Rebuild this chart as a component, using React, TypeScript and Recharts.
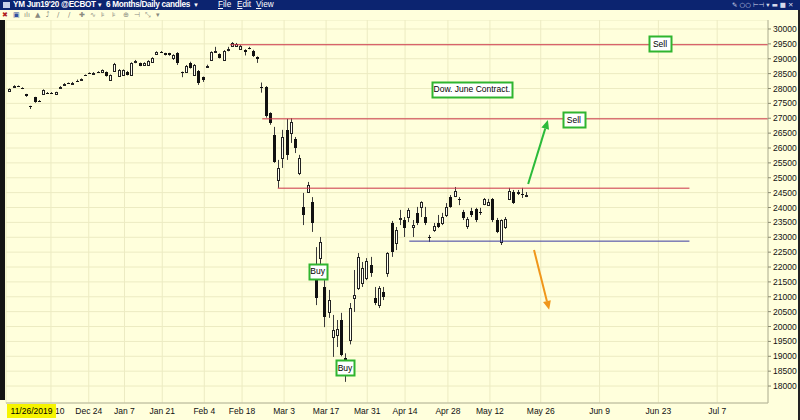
import {
  Bar,
  CartesianGrid,
  ComposedChart,
  ReferenceDot,
  ReferenceLine,
  XAxis,
  YAxis,
} from "recharts";

// Daily OHLC for the Dow June contract, one entry per trading session
const opens = [
  27930, 28080, 28090, 28020, 27800, 27400, 27700, 27590, 27830, 27860,
  27860, 27800, 28000, 28150, 28190, 28180, 28250, 28270, 28450, 28520,
  28520, 28560, 28560, 28560, 28290, 28590, 28420, 28460, 28560, 28460,
  28880, 28850, 28790, 28800, 28900, 29170, 29230, 29190, 29180, 29030,
  29190, 28560, 28550, 28860, 28460, 28590, 28390, 28760, 28960, 29230,
  29160, 28960, 29300, 29430, 29430, 29320, 29300, 29350, 29260, 29050,
  28060, 28050, 27180, 26440, 24920, 25660, 26610, 26510, 26300, 25160,
  24020, 24520, 24190, 21560, 22300, 21330, 20490, 19650, 19710, 20220,
  18940, 19550, 20960, 21300, 21460, 21630, 22070, 20960, 20720, 21160,
  21800, 23480, 22810, 23640, 23580, 23680, 23340, 23820, 24020, 23680,
  23010, 23240, 23480, 23480, 23750, 24350, 24390, 24290, 23850, 23380,
  23880, 23950, 23840, 24120, 24090, 24290, 23580, 22840, 23350, 24290,
  24520, 24510, 24470, 24390,
];
const highs = [
  28000, 28110, 28100, 28040, 27820, 27420, 27720, 27610, 27970, 27880,
  27880, 27890, 28080, 28180, 28200, 28220, 28300, 28340, 28470, 28540,
  28550, 28580, 28640, 28570, 28470, 28860, 28650, 28640, 28590, 28880,
  28960, 28870, 28880, 28950, 29050, 29250, 29260, 29200, 29200, 29150,
  29220, 28570, 28790, 28900, 28820, 28620, 28400, 28800, 29250, 29400,
  29180, 29290, 29400, 29560, 29530, 29460, 29320, 29400, 29300, 29080,
  28200, 28080, 27200, 26710, 25600, 26610, 26980, 27000, 26370, 25770,
  24490, 24860, 24350, 22670, 23010, 21560, 21230, 20390, 20220, 20460,
  19100, 20790, 21900, 22470, 22170, 22300, 22340, 21330, 21360, 21330,
  22500, 23550, 23345, 23920, 23680, 23980, 23580, 24020, 24210, 24020,
  23080, 23480, 23750, 23820, 24150, 24420, 24690, 24350, 23920, 23680,
  23990, 23990, 23990, 24320, 24290, 24320, 23650, 23600, 23680, 24660,
  24590, 24590, 24660, 24520,
];
const lows = [
  27910, 28060, 28050, 27980, 27720, 27310, 27520, 27550, 27810, 27830,
  27820, 27780, 27990, 28130, 28170, 28160, 28230, 28260, 28430, 28500,
  28500, 28540, 28550, 28400, 28280, 28570, 28400, 28440, 28440, 28440,
  28850, 28750, 28780, 28790, 28890, 29150, 29200, 29110, 29100, 28960,
  28790, 28380, 28530, 28670, 28430, 28120, 28220, 28730, 28940, 29220,
  29010, 28930, 29250, 29420, 29400, 29300, 29110, 29320, 29060, 28860,
  27860, 27020, 26780, 25500, 24660, 25330, 25600, 26170, 25830, 25090,
  23410, 24490, 23180, 20720, 22070, 19980, 20290, 18980, 19310, 19000,
  18140, 19400, 20490, 21230, 21330, 21560, 21670, 20720, 20620, 20890,
  21670, 22340, 22570, 23410, 23010, 23510, 23010, 23410, 23680, 23410,
  22840, 23180, 23310, 23410, 23680, 23990, 24350, 24080, 23580, 23280,
  23680, 23510, 23750, 24080, 24050, 23510, 23140, 22740, 23280, 24250,
  24120, 24420, 24320, 24350,
];
const closes = [
  27980, 28090, 28070, 28000, 27740, 27380, 27540, 27570, 27950, 27850,
  27840, 27880, 28060, 28160, 28180, 28200, 28240, 28330, 28440, 28510,
  28530, 28550, 28620, 28420, 28450, 28830, 28620, 28620, 28450, 28860,
  28930, 28770, 28860, 28920, 29020, 29220, 29220, 29130, 29120, 29120,
  28860, 28510, 28760, 28690, 28790, 28190, 28300, 28770, 29220, 29260,
  29030, 29260, 29340, 29540, 29500, 29440, 29220, 29340, 29080, 28990,
  28000, 27080, 26840, 25530, 25330, 26370, 25770, 26880, 26000, 25660,
  23750, 24760, 23480, 20960, 22840, 20320, 20890, 19880, 19920, 19040,
  18880, 20620, 21060, 22340, 21970, 22200, 21800, 20790, 21300, 20990,
  22470, 22500, 23240, 23660, 23310, 23920, 23410, 23480, 24190, 23480,
  22980, 23380, 23350, 23680, 24020, 24020, 24560, 24250, 23650, 23610,
  23750, 23580, 23820, 24290, 24180, 23580, 23180, 23580, 23610, 24560,
  24150, 24530, 24420, 24430,
];

// Date ticks, placed on the session/day slot axis
const tickSlots = [
  10, 19, 27.5, 36.5, 46.5, 55.5, 65.5, 75.5, 85.3, 94.3, 104.5, 114.5,
  126.6, 140.6, 154.6, 168.6,
];
const tickLabels = [
  "Dec 10", "Dec 24", "Jan 7", "Jan 21", "Feb 4", "Feb 18", "Mar 3",
  "Mar 17", "Mar 31", "Apr 14", "Apr 28", "May 12", "May 26", "Jun 9",
  "Jun 23", "Jul 7",
];
const priceTicks = [
  18000, 18500, 19000, 19500, 20000, 20500, 21000, 21500, 22000, 22500,
  23000, 23500, 24000, 24500, 25000, 25500, 26000, 26500, 27000, 27500,
  28000, 28500, 29000, 29500, 30000,
];

// Drawn trend levels: [start slot, end slot, price]
const resistance = [
  [52.6, 180.7, 29470],
  [60.3, 180.7, 26980],
  [64.0, 162.0, 24650],
];
const support = [[95.3, 162.0, 22870]];

// Text notes: [slot, price, text]
const notes: [number, number, string][] = [
  [155, 29500, "Sell"],
  [134.5, 26950, "Sell"],
  [110.2, 27980, "Dow. June Contract."],
  [73.5, 21860, "Buy"],
  [80.0, 18610, "Buy"],
];

// Projection arrows: [from slot, from price, to slot, to price]
const upArrow = [123.6, 24790, 128.3, 26940];
const downArrow = [125.0, 22570, 128.6, 20560];

const rows = opens.map((o, i) => ({
  i,
  o,
  h: highs[i],
  l: lows[i],
  c: closes[i],
}));

const BG = "#ffffdc";
const FONT = '"Liberation Sans", Arial, sans-serif';

function Candle(props: any) {
  const { x, y, width, height, payload } = props;
  if (x == null || y == null) return null;
  const top = Math.min(y, y + height);
  const span = Math.abs(height);
  const { o, h, l, c } = payload;
  const py = (v: number) => top + ((h - v) / (h - l || 1)) * span;
  const cx = Math.round(x + width / 2);
  const bTop = Math.round(py(Math.max(o, c)));
  const bBot = Math.round(py(Math.min(o, c)));
  const up = c > o;
  return (
    <g>
      <line
        x1={cx + 0.5}
        x2={cx + 0.5}
        y1={top}
        y2={top + span}
        stroke="#3a3a3a"
        strokeWidth={1}
      />
      {up ? (
        <rect
          x={cx - 0.5}
          y={bTop + 0.5}
          width={2}
          height={Math.max(1, bBot - bTop)}
          fill="#fffff2"
          stroke="#222"
          strokeWidth={1}
        />
      ) : (
        <rect
          x={cx - 1}
          y={bTop}
          width={3}
          height={Math.max(1, bBot - bTop)}
          fill="#111"
        />
      )}
    </g>
  );
}

function NoteBox({ cx, cy, text }: { cx: number; cy: number; text: string }) {
  const w = Math.round(text.length * 3.9 + 6);
  const hgt = 15;
  return (
    <g>
      <rect
        x={Math.round(cx - w / 2) + 0.5}
        y={Math.round(cy - hgt / 2) + 0.5}
        width={w}
        height={hgt}
        fill="#ffffff"
        stroke="#2fb52f"
        strokeWidth={2}
      />
      <text
        x={cx}
        y={cy + 3}
        textAnchor="middle"
        fontSize={8.5}
        fontFamily={FONT}
        fill="#000"
      >
        {text}
      </text>
    </g>
  );
}

function arrowShape(color: string) {
  return (p: any) => {
    const { x1, y1, x2, y2 } = p;
    const dx = x2 - x1;
    const dy = y2 - y1;
    const len = Math.hypot(dx, dy) || 1;
    const ux = dx / len;
    const uy = dy / len;
    const hl = 9;
    const hw = 4;
    const bx = x2 - ux * hl;
    const by = y2 - uy * hl;
    return (
      <g>
        <line x1={x1} y1={y1} x2={bx} y2={by} stroke={color} strokeWidth={2} />
        <polygon
          points={`${x2},${y2} ${bx - uy * hw},${by + ux * hw} ${bx + uy * hw},${by - ux * hw}`}
          fill={color}
        />
      </g>
    );
  };
}

function TitleBar() {
  const span = (left: number, text: string) => (
    <span
      style={{
        position: "absolute",
        left,
        top: 0,
        fontWeight: 700,
        whiteSpace: "nowrap",
        letterSpacing: -0.3,
      }}
    >
      {text}
      <span style={{ fontSize: 6, marginLeft: 1 }}>▼</span>
    </span>
  );
  const menu = (left: number, first: string, rest: string) => (
    <span style={{ position: "absolute", left, top: 0, whiteSpace: "nowrap" }}>
      <u>{first}</u>
      {rest}
    </span>
  );
  return (
    <div
      style={{
        position: "absolute",
        left: 0,
        top: 0,
        width: 800,
        height: 10,
        background: "#0c2470",
        color: "#fff",
        fontSize: 8.2,
        lineHeight: "10px",
        fontFamily: FONT,
        overflow: "hidden",
      }}
    >
      <span
        style={{
          position: "absolute",
          left: 3,
          top: 2,
          width: 7,
          height: 6,
          background: "#c8d0e8",
        }}
      />
      {span(13, "YM Jun19'20 @ECBOT")}
      {span(106, "6 Months/Daily candles ")}
      {menu(218, "F", "ile")}
      {menu(237, "E", "dit")}
      {menu(256, "V", "iew")}
      <span
        style={{
          position: "absolute",
          left: 732,
          top: 1,
          fontSize: 6.5,
          lineHeight: "8px",
          color: "#d8dcec",
          whiteSpace: "nowrap",
          fontFamily: '"DejaVu Sans", sans-serif',
        }}
      >
        ✎ ○○ ⊢⊣ ▾ ▬ ■ ✕
      </span>
    </div>
  );
}

function ToolBar() {
  const glyphs = ["✖", "▣", "ılı", "▲", "⤴", "∕", "∕", "✚", "∿", "⊧", "⊧", "⊕", "⊣", "⤡", "▾"];
  return (
    <div
      style={{
        position: "absolute",
        left: 0,
        top: 10,
        width: 800,
        height: 10,
        background: BG,
        fontSize: 7,
        lineHeight: "10px",
        color: "#777",
        fontFamily: '"DejaVu Sans", sans-serif',
        whiteSpace: "nowrap",
      }}
    >
      {glyphs.map((g, k) => (
        <span
          key={k}
          style={{
            position: "absolute",
            left: 2 + k * 11,
            color: k === 0 ? "#b02020" : k === 1 ? "#3050a0" : "#8a8a80",
          }}
        >
          {g}
        </span>
      ))}
    </div>
  );
}

export default function App() {
  const labelOf = (v: number) => {
    const k = tickSlots.indexOf(v);
    return k >= 0 ? tickLabels[k] : "";
  };
  return (
    <div
      style={{
        position: "absolute",
        left: 0,
        top: 0,
        width: 800,
        height: 420,
        background: BG,
        overflow: "hidden",
        fontFamily: FONT,
      }}
    >
      <TitleBar />
      <ToolBar />
      <div style={{ position: "absolute", left: 0, top: 20 }}>
        <ComposedChart
          width={800}
          height={400}
          data={rows}
          margin={{ top: 0, right: 0, bottom: 0, left: 6 }}
        >
          <CartesianGrid stroke="#ecebc2" strokeWidth={1} />
          <XAxis
            dataKey="i"
            type="number"
            domain={[-0.7, 180.7]}
            ticks={tickSlots}
            tickFormatter={labelOf}
            interval={0}
            height={17}
            axisLine={{ stroke: "#b4b49a" }}
            tickLine={false}
            tickSize={0}
            tickMargin={5}
            tick={{ fontSize: 8.5, fill: "#111", fontFamily: FONT }}
            allowDataOverflow
          />
          <YAxis
            orientation="right"
            type="number"
            domain={[17430, 30302]}
            ticks={priceTicks}
            interval={0}
            width={32}
            axisLine={{ stroke: "#b4b49a" }}
            tickLine={{ stroke: "#8a8a70" }}
            tickSize={3}
            tickMargin={2}
            tick={{ fontSize: 8.5, fill: "#111", fontFamily: FONT }}
            allowDataOverflow
          />
          {resistance.map(([a, b, p], k) => (
            <ReferenceLine
              key={`r${k}`}
              segment={[
                { x: a, y: p },
                { x: b, y: p },
              ]}
              stroke="#cc3347"
              strokeWidth={1}
              ifOverflow="hidden"
            />
          ))}
          {support.map(([a, b, p], k) => (
            <ReferenceLine
              key={`s${k}`}
              segment={[
                { x: a, y: p },
                { x: b, y: p },
              ]}
              stroke="#3a3aa2"
              strokeWidth={1}
              ifOverflow="hidden"
            />
          ))}
          <Bar
            dataKey={(d: any) => [d.l, d.h]}
            barSize={3}
            shape={Candle}
            isAnimationActive={false}
          />
          <ReferenceLine
            segment={[
              { x: upArrow[0], y: upArrow[1] },
              { x: upArrow[2], y: upArrow[3] },
            ]}
            shape={arrowShape("#2bbb3a")}
            ifOverflow="visible"
          />
          <ReferenceLine
            segment={[
              { x: downArrow[0], y: downArrow[1] },
              { x: downArrow[2], y: downArrow[3] },
            ]}
            shape={arrowShape("#f0961a")}
            ifOverflow="visible"
          />
          {notes.map(([s, p, t], k) => (
            <ReferenceDot
              key={`n${k}`}
              x={s}
              y={p}
              r={0}
              ifOverflow="visible"
              shape={(q: any) => <NoteBox cx={q.cx} cy={q.cy} text={t} />}
            />
          ))}
        </ComposedChart>
      </div>
      {/* window frame edges */}
      <div
        style={{
          position: "absolute",
          left: 0,
          top: 20,
          width: 5,
          height: 380,
          background: "#141414",
        }}
      />
      <div
        style={{
          position: "absolute",
          right: 0,
          top: 10,
          width: 2,
          height: 410,
          background: "#222",
        }}
      />
      {/* cursor date readout */}
      <div
        style={{
          position: "absolute",
          left: 7,
          top: 404,
          width: 49,
          height: 14,
          background: "#f6f400",
          color: "#000",
          fontSize: 8.5,
          lineHeight: "14px",
          textAlign: "center",
          fontFamily: FONT,
        }}
      >
        11/26/2019
      </div>
    </div>
  );
}
